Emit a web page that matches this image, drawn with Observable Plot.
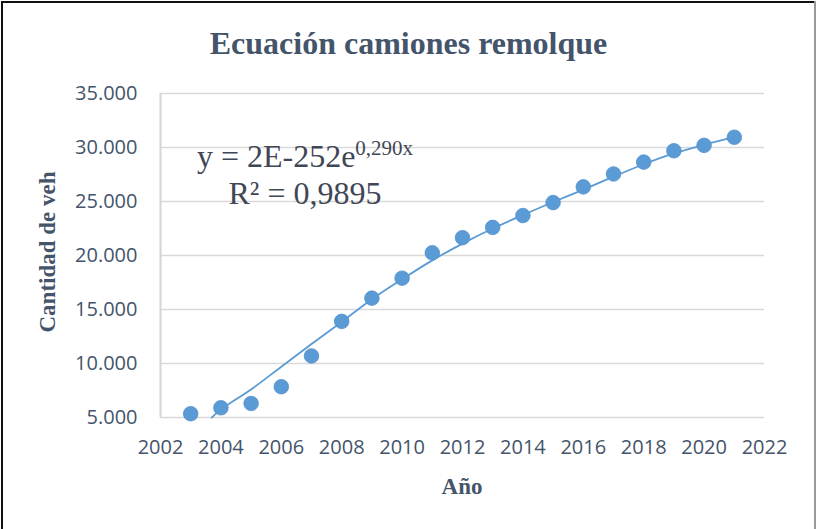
<!DOCTYPE html>
<html><head><meta charset="utf-8">
<script src="https://cdn.jsdelivr.net/npm/d3@7"></script>
<script src="https://cdn.jsdelivr.net/npm/@observablehq/plot@0.6"></script>
<style>
body{margin:0;background:#fff;}
#wrap{position:relative;width:817px;height:529px;overflow:hidden;background:#fff;}
#bt{position:absolute;left:1px;top:1px;width:815px;height:2px;background:#111;}
#bl{position:absolute;left:1px;top:1px;width:2px;height:528px;background:#111;}
#br{position:absolute;left:814px;top:1px;width:2px;height:528px;background:#9a9a9a;}
#title{position:absolute;left:0;top:26.5px;width:817px;text-align:center;font-family:"Liberation Serif",serif;font-weight:bold;font-size:32px;line-height:32px;color:#44546A;}
#chart{position:absolute;left:0;top:70px;}
#eq{position:absolute;left:155px;top:139.5px;width:300px;text-align:center;font-family:"Liberation Serif",serif;font-size:32px;line-height:33px;color:#3F4756;}
#eq .sup{font-size:21px;position:relative;top:-12px;}
#ylab{position:absolute;left:48px;top:252px;transform:translate(-50%,-50%) rotate(-90deg);white-space:nowrap;font-family:"Liberation Serif",serif;font-weight:bold;font-size:23px;color:#44546A;}
#xlab{position:absolute;left:462px;top:487px;transform:translate(-50%,-50%);white-space:nowrap;font-family:"Liberation Serif",serif;font-weight:bold;font-size:23px;color:#44546A;}
</style></head><body>
<div id="wrap">
  <div id="bt"></div><div id="bl"></div><div id="br"></div>
  <div id="title">Ecuación camiones remolque</div>
  <div id="chart"></div>
  <div id="eq">y = 2E-252e<span class="sup">0,290x</span><br>R² = 0,9895</div>
  <div id="ylab">Cantidad de veh</div>
  <div id="xlab">Año</div>
</div>
<script>
const years = [2003, 2004, 2005, 2006, 2007, 2008, 2009, 2010, 2011, 2012, 2013, 2014, 2015, 2016, 2017, 2018, 2019, 2020, 2021];
const vehicles = [5350, 5900, 6300, 7850, 10700, 13900, 16050, 17900, 20250, 21650, 22600, 23700, 24900, 26350, 27550, 28650, 29700, 30200, 30950];
const trendYears = [2003.7, 2004, 2005, 2006, 2007, 2008, 2009, 2010, 2011, 2012, 2013, 2014, 2015, 2016, 2017, 2018, 2019, 2020, 2021];
const trendValues = [5000, 5750, 7600, 9700, 11800, 13850, 15950, 17800, 19550, 21100, 22500, 23750, 24950, 26100, 27300, 28450, 29450, 30250, 30950];
const xTicks = [2002, 2004, 2006, 2008, 2010, 2012, 2014, 2016, 2018, 2020, 2022];
const yTicks = [5000, 10000, 15000, 20000, 25000, 30000, 35000];

const points = years.map((y, i) => ({year: y, value: vehicles[i]}));
const trend = trendYears.map((y, i) => ({year: y, value: trendValues[i]}));
const fmt = d3.formatLocale({decimal: ",", thousands: ".", grouping: [3], currency: ["", ""]}).format(",");

const chart = Plot.plot({
  width: 817,
  height: 459,
  marginTop: 23,
  marginBottom: 112,
  marginLeft: 160,
  marginRight: 53,
  style: {fontFamily: "'Open Sans', sans-serif", fontSize: "20px", color: "#44546A", background: "transparent", overflow: "visible"},
  x: {domain: [2002, 2022]},
  y: {domain: [5000, 35000]},
  marks: [
    Plot.gridY(yTicks, {stroke: "#D9D9D9", strokeOpacity: 1, strokeWidth: 1.5}),
    Plot.ruleX([2002], {stroke: "#D0D5DC", strokeWidth: 2}),
    Plot.axisX(xTicks, {tickSize: 0, tickPadding: 22, tickFormat: d => String(d), label: null}),
    Plot.axisY(yTicks, {tickSize: 0, tickPadding: 23, tickFormat: fmt, label: null}),
    Plot.line(trend, {x: "year", y: "value", curve: "catmull-rom", stroke: "#5B9BD5", strokeWidth: 1.8}),
    Plot.dot(points, {x: "year", y: "value", r: 7.3, fill: "#5B9BD5", stroke: "#5590CB", strokeWidth: 0.8})
  ]
});
document.getElementById("chart").appendChild(chart);
</script>
</body></html>
